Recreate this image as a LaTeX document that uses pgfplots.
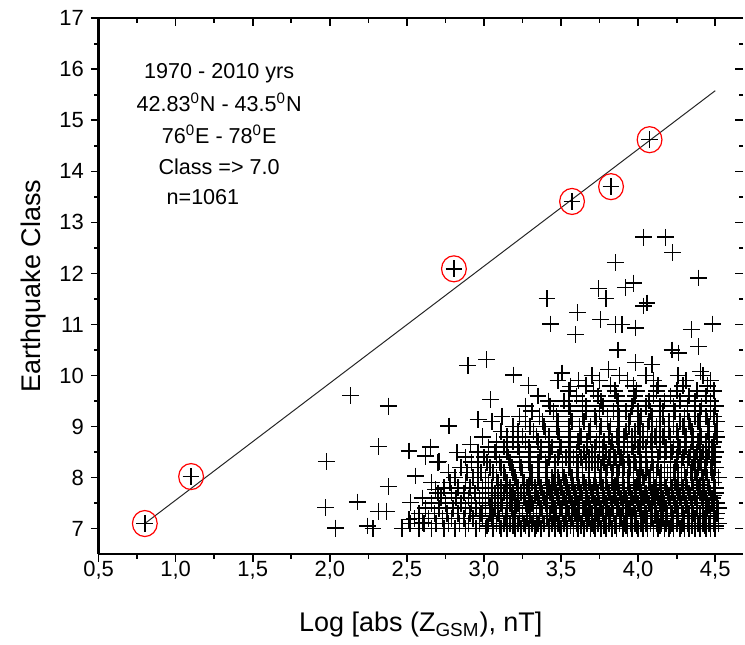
\documentclass[border=0pt]{standalone}
\usepackage{pgfplots}
\pgfplotsset{compat=1.18}
\usepackage{fontspec}
\setmainfont{Liberation Sans}

% bulk of events, one row per class value (dense part estimated)
\pgfplotstableread{
x y
1.973 7.41
2.038 7.01
2.178 7.52
2.243 7.05
2.314 7.34
2.366 7.34
2.379 7.82
1.977 8.31
2.314 8.61
2.513 8.52
2.135 9.61
2.379 9.40
2.556 8.03
2.653 8.60
2.621 8.42
2.707 8.32
2.772 9.01
2.962 9.14
3.042 9.53
3.117 9.20
2.913 8.65
2.826 8.49
2.686 7.77
2.524 7.51
2.513 7.18
2.600 7.12
2.895 10.20
3.016 10.31
3.193 10.01
3.290 9.81
3.506 10.05
3.614 9.90
3.561 9.79
3.420 9.50
3.809 10.12
3.982 10.25
4.089 10.22
4.403 10.08
3.868 10.50
4.219 10.50
4.262 10.44
4.392 10.57
3.593 10.80
3.755 11.10
3.852 11.00
3.895 11.00
3.982 10.93
4.345 10.90
4.483 11.01
3.431 11.01
3.608 11.23
4.036 11.36
4.057 11.42
3.409 11.51
3.791 11.51
3.744 11.70
3.917 11.72
3.971 11.81
4.392 11.91
3.852 12.21
4.223 12.41
4.036 12.71
4.176 12.71
}\sparse

\pgfplotstableread{
x y
2.28 7.0
2.47 7.0
2.58 7.0
2.66 7.0
2.74 7.0
2.81 7.0
2.88 7.0
2.95 7.0
3.01 7.0
3.06 7.0
3.11 7.0
3.15 7.0
3.20 7.0
3.24 7.0
3.29 7.0
3.33 7.0
3.37 7.0
3.42 7.0
3.46 7.0
3.50 7.0
3.54 7.0
3.58 7.0
3.61 7.0
3.65 7.0
3.69 7.0
3.72 7.0
3.76 7.0
3.79 7.0
3.83 7.0
3.86 7.0
3.90 7.0
3.93 7.0
3.96 7.0
4.00 7.0
4.03 7.0
4.06 7.0
4.10 7.0
4.13 7.0
4.17 7.0
4.20 7.0
4.23 7.0
4.27 7.0
4.30 7.0
4.33 7.0
4.37 7.0
4.40 7.0
4.44 7.0
4.47 7.0
4.50 7.0
3.02 7.05
3.10 7.05
3.19 7.05
3.27 7.05
3.34 7.05
3.42 7.05
3.49 7.05
3.56 7.05
3.63 7.05
3.71 7.05
3.78 7.05
3.85 7.05
3.92 7.05
3.99 7.05
4.06 7.05
4.14 7.05
4.21 7.05
4.28 7.05
4.35 7.05
4.43 7.05
4.50 7.05
2.52 7.1
2.61 7.1
2.69 7.1
2.77 7.1
2.84 7.1
2.90 7.1
2.97 7.1
3.03 7.1
3.08 7.1
3.13 7.1
3.17 7.1
3.22 7.1
3.26 7.1
3.31 7.1
3.35 7.1
3.39 7.1
3.44 7.1
3.48 7.1
3.52 7.1
3.56 7.1
3.60 7.1
3.63 7.1
3.67 7.1
3.70 7.1
3.74 7.1
3.78 7.1
3.81 7.1
3.85 7.1
3.88 7.1
3.91 7.1
3.95 7.1
3.98 7.1
4.02 7.1
4.05 7.1
4.08 7.1
4.12 7.1
4.15 7.1
4.18 7.1
4.22 7.1
4.25 7.1
4.29 7.1
4.32 7.1
4.35 7.1
4.39 7.1
4.42 7.1
4.46 7.1
4.49 7.1
4.52 7.1
2.55 7.2
2.64 7.2
2.73 7.2
2.79 7.2
2.87 7.2
2.93 7.2
2.99 7.2
3.05 7.2
3.10 7.2
3.14 7.2
3.19 7.2
3.23 7.2
3.28 7.2
3.32 7.2
3.36 7.2
3.41 7.2
3.45 7.2
3.49 7.2
3.53 7.2
3.57 7.2
3.61 7.2
3.64 7.2
3.68 7.2
3.72 7.2
3.75 7.2
3.79 7.2
3.82 7.2
3.86 7.2
3.89 7.2
3.93 7.2
3.96 7.2
3.99 7.2
4.03 7.2
4.06 7.2
4.09 7.2
4.13 7.2
4.16 7.2
4.19 7.2
4.23 7.2
4.26 7.2
4.30 7.2
4.33 7.2
4.37 7.2
4.40 7.2
4.43 7.2
4.47 7.2
4.50 7.2
2.97 7.25
3.06 7.25
3.14 7.25
3.23 7.25
3.30 7.25
3.38 7.25
3.46 7.25
3.53 7.25
3.60 7.25
3.67 7.25
3.74 7.25
3.82 7.25
3.89 7.25
3.96 7.25
4.04 7.25
4.11 7.25
4.18 7.25
4.25 7.25
4.33 7.25
4.40 7.25
4.47 7.25
2.58 7.3
2.68 7.3
2.76 7.3
2.83 7.3
2.91 7.3
2.98 7.3
3.04 7.3
3.09 7.3
3.15 7.3
3.20 7.3
3.25 7.3
3.30 7.3
3.34 7.3
3.38 7.3
3.43 7.3
3.47 7.3
3.51 7.3
3.55 7.3
3.59 7.3
3.62 7.3
3.66 7.3
3.70 7.3
3.73 7.3
3.77 7.3
3.81 7.3
3.84 7.3
3.88 7.3
3.92 7.3
3.95 7.3
3.98 7.3
4.02 7.3
4.05 7.3
4.09 7.3
4.12 7.3
4.16 7.3
4.19 7.3
4.22 7.3
4.26 7.3
4.29 7.3
4.33 7.3
4.36 7.3
4.40 7.3
4.44 7.3
4.47 7.3
4.51 7.3
2.62 7.4
2.71 7.4
2.80 7.4
2.88 7.4
2.95 7.4
3.01 7.4
3.07 7.4
3.12 7.4
3.18 7.4
3.23 7.4
3.28 7.4
3.32 7.4
3.37 7.4
3.41 7.4
3.46 7.4
3.50 7.4
3.54 7.4
3.58 7.4
3.62 7.4
3.65 7.4
3.69 7.4
3.73 7.4
3.76 7.4
3.80 7.4
3.83 7.4
3.87 7.4
3.90 7.4
3.94 7.4
3.97 7.4
4.01 7.4
4.04 7.4
4.08 7.4
4.11 7.4
4.15 7.4
4.18 7.4
4.21 7.4
4.25 7.4
4.28 7.4
4.32 7.4
4.35 7.4
4.38 7.4
4.42 7.4
4.45 7.4
4.49 7.4
4.52 7.4
3.04 7.45
3.12 7.45
3.21 7.45
3.29 7.45
3.36 7.45
3.44 7.45
3.51 7.45
3.59 7.45
3.66 7.45
3.73 7.45
3.80 7.45
3.87 7.45
3.95 7.45
4.02 7.45
4.09 7.45
4.16 7.45
4.24 7.45
4.31 7.45
4.38 7.45
4.46 7.45
2.66 7.5
2.75 7.5
2.85 7.5
2.92 7.5
2.99 7.5
3.05 7.5
3.11 7.5
3.17 7.5
3.22 7.5
3.27 7.5
3.31 7.5
3.36 7.5
3.40 7.5
3.45 7.5
3.49 7.5
3.53 7.5
3.57 7.5
3.61 7.5
3.64 7.5
3.68 7.5
3.72 7.5
3.75 7.5
3.79 7.5
3.83 7.5
3.86 7.5
3.90 7.5
3.93 7.5
3.97 7.5
4.00 7.5
4.04 7.5
4.07 7.5
4.11 7.5
4.14 7.5
4.17 7.5
4.21 7.5
4.24 7.5
4.28 7.5
4.31 7.5
4.35 7.5
4.38 7.5
4.42 7.5
4.45 7.5
4.48 7.5
4.51 7.5
2.60 7.6
2.72 7.6
2.82 7.6
2.90 7.6
2.97 7.6
3.03 7.6
3.09 7.6
3.15 7.6
3.20 7.6
3.26 7.6
3.30 7.6
3.35 7.6
3.39 7.6
3.44 7.6
3.48 7.6
3.52 7.6
3.56 7.6
3.60 7.6
3.64 7.6
3.67 7.6
3.71 7.6
3.74 7.6
3.78 7.6
3.82 7.6
3.85 7.6
3.89 7.6
3.92 7.6
3.96 7.6
3.99 7.6
4.03 7.6
4.06 7.6
4.10 7.6
4.13 7.6
4.16 7.6
4.20 7.6
4.23 7.6
4.27 7.6
4.30 7.6
4.34 7.6
4.37 7.6
4.41 7.6
4.44 7.6
4.48 7.6
3.09 7.65
3.18 7.65
3.26 7.65
3.33 7.65
3.41 7.65
3.48 7.65
3.55 7.65
3.62 7.65
3.70 7.65
3.77 7.65
3.84 7.65
3.91 7.65
3.98 7.65
4.05 7.65
4.13 7.65
4.20 7.65
4.27 7.65
4.34 7.65
4.42 7.65
4.49 7.65
2.70 7.7
2.79 7.7
2.87 7.7
2.94 7.7
3.01 7.7
3.07 7.7
3.13 7.7
3.19 7.7
3.24 7.7
3.29 7.7
3.34 7.7
3.38 7.7
3.43 7.7
3.47 7.7
3.51 7.7
3.55 7.7
3.59 7.7
3.63 7.7
3.66 7.7
3.70 7.7
3.74 7.7
3.77 7.7
3.81 7.7
3.84 7.7
3.88 7.7
3.91 7.7
3.95 7.7
3.98 7.7
4.02 7.7
4.05 7.7
4.09 7.7
4.12 7.7
4.15 7.7
4.19 7.7
4.22 7.7
4.26 7.7
4.29 7.7
4.33 7.7
4.36 7.7
4.40 7.7
4.43 7.7
4.47 7.7
4.50 7.7
2.74 7.8
2.83 7.8
2.91 7.8
2.99 7.8
3.05 7.8
3.11 7.8
3.17 7.8
3.22 7.8
3.28 7.8
3.33 7.8
3.37 7.8
3.42 7.8
3.46 7.8
3.50 7.8
3.54 7.8
3.58 7.8
3.62 7.8
3.66 7.8
3.69 7.8
3.73 7.8
3.77 7.8
3.80 7.8
3.84 7.8
3.87 7.8
3.91 7.8
3.94 7.8
3.98 7.8
4.01 7.8
4.04 7.8
4.08 7.8
4.11 7.8
4.15 7.8
4.18 7.8
4.22 7.8
4.25 7.8
4.29 7.8
4.32 7.8
4.36 7.8
4.39 7.8
4.43 7.8
4.46 7.8
4.50 7.8
3.14 7.85
3.29 7.85
3.44 7.85
3.58 7.85
3.71 7.85
3.85 7.85
3.99 7.85
4.12 7.85
4.26 7.85
4.40 7.85
2.66 7.9
2.78 7.9
2.88 7.9
2.96 7.9
3.03 7.9
3.09 7.9
3.15 7.9
3.21 7.9
3.26 7.9
3.31 7.9
3.36 7.9
3.41 7.9
3.45 7.9
3.49 7.9
3.53 7.9
3.57 7.9
3.61 7.9
3.65 7.9
3.68 7.9
3.72 7.9
3.76 7.9
3.79 7.9
3.83 7.9
3.86 7.9
3.90 7.9
3.93 7.9
3.97 7.9
4.00 7.9
4.04 7.9
4.07 7.9
4.10 7.9
4.14 7.9
4.17 7.9
4.21 7.9
4.24 7.9
4.28 7.9
4.31 7.9
4.35 7.9
4.38 7.9
4.42 7.9
4.45 7.9
4.49 7.9
2.81 8.0
2.93 8.0
3.01 8.0
3.08 8.0
3.14 8.0
3.20 8.0
3.25 8.0
3.30 8.0
3.35 8.0
3.40 8.0
3.44 8.0
3.48 8.0
3.52 8.0
3.57 8.0
3.61 8.0
3.64 8.0
3.68 8.0
3.72 8.0
3.75 8.0
3.79 8.0
3.83 8.0
3.86 8.0
3.90 8.0
3.93 8.0
3.97 8.0
4.00 8.0
4.03 8.0
4.07 8.0
4.10 8.0
4.14 8.0
4.17 8.0
4.21 8.0
4.24 8.0
4.28 8.0
4.31 8.0
4.35 8.0
4.38 8.0
4.42 8.0
4.45 8.0
4.49 8.0
4.52 8.0
2.77 8.1
2.89 8.1
2.98 8.1
3.06 8.1
3.13 8.1
3.19 8.1
3.25 8.1
3.31 8.1
3.36 8.1
3.41 8.1
3.46 8.1
3.51 8.1
3.56 8.1
3.60 8.1
3.64 8.1
3.68 8.1
3.72 8.1
3.76 8.1
3.79 8.1
3.83 8.1
3.87 8.1
3.90 8.1
3.94 8.1
3.97 8.1
4.01 8.1
4.05 8.1
4.08 8.1
4.12 8.1
4.15 8.1
4.19 8.1
4.23 8.1
4.26 8.1
4.30 8.1
4.34 8.1
4.37 8.1
4.41 8.1
4.44 8.1
4.48 8.1
2.85 8.2
2.96 8.2
3.04 8.2
3.11 8.2
3.18 8.2
3.24 8.2
3.30 8.2
3.35 8.2
3.41 8.2
3.46 8.2
3.51 8.2
3.55 8.2
3.60 8.2
3.64 8.2
3.68 8.2
3.72 8.2
3.76 8.2
3.80 8.2
3.84 8.2
3.88 8.2
3.91 8.2
3.95 8.2
3.99 8.2
4.02 8.2
4.06 8.2
4.10 8.2
4.13 8.2
4.17 8.2
4.21 8.2
4.24 8.2
4.28 8.2
4.32 8.2
4.35 8.2
4.39 8.2
4.43 8.2
4.47 8.2
4.50 8.2
2.70 8.3
2.92 8.3
3.02 8.3
3.10 8.3
3.17 8.3
3.23 8.3
3.29 8.3
3.35 8.3
3.40 8.3
3.46 8.3
3.51 8.3
3.56 8.3
3.61 8.3
3.66 8.3
3.70 8.3
3.74 8.3
3.78 8.3
3.82 8.3
3.86 8.3
3.90 8.3
3.94 8.3
3.98 8.3
4.02 8.3
4.05 8.3
4.09 8.3
4.13 8.3
4.17 8.3
4.21 8.3
4.25 8.3
4.28 8.3
4.32 8.3
4.36 8.3
4.40 8.3
4.44 8.3
4.48 8.3
2.88 8.4
3.00 8.4
3.08 8.4
3.16 8.4
3.23 8.4
3.30 8.4
3.36 8.4
3.42 8.4
3.48 8.4
3.53 8.4
3.58 8.4
3.63 8.4
3.68 8.4
3.72 8.4
3.77 8.4
3.81 8.4
3.85 8.4
3.89 8.4
3.93 8.4
3.97 8.4
4.01 8.4
4.05 8.4
4.09 8.4
4.13 8.4
4.17 8.4
4.21 8.4
4.25 8.4
4.29 8.4
4.33 8.4
4.37 8.4
4.41 8.4
4.45 8.4
4.49 8.4
2.96 8.5
3.07 8.5
3.15 8.5
3.23 8.5
3.30 8.5
3.37 8.5
3.43 8.5
3.49 8.5
3.55 8.5
3.60 8.5
3.65 8.5
3.70 8.5
3.75 8.5
3.79 8.5
3.84 8.5
3.88 8.5
3.93 8.5
3.97 8.5
4.01 8.5
4.05 8.5
4.09 8.5
4.14 8.5
4.18 8.5
4.22 8.5
4.26 8.5
4.30 8.5
4.34 8.5
4.38 8.5
4.42 8.5
4.46 8.5
4.50 8.5
3.03 8.6
3.13 8.6
3.22 8.6
3.29 8.6
3.37 8.6
3.44 8.6
3.50 8.6
3.56 8.6
3.62 8.6
3.67 8.6
3.72 8.6
3.77 8.6
3.82 8.6
3.87 8.6
3.91 8.6
3.96 8.6
4.00 8.6
4.05 8.6
4.09 8.6
4.14 8.6
4.18 8.6
4.23 8.6
4.27 8.6
4.31 8.6
4.36 8.6
4.40 8.6
4.44 8.6
4.48 8.6
3.08 8.7
3.19 8.7
3.27 8.7
3.35 8.7
3.42 8.7
3.49 8.7
3.55 8.7
3.61 8.7
3.67 8.7
3.73 8.7
3.78 8.7
3.83 8.7
3.88 8.7
3.93 8.7
3.98 8.7
4.03 8.7
4.08 8.7
4.12 8.7
4.17 8.7
4.21 8.7
4.26 8.7
4.30 8.7
4.35 8.7
4.39 8.7
4.44 8.7
4.49 8.7
2.99 8.8
3.15 8.8
3.25 8.8
3.34 8.8
3.42 8.8
3.49 8.8
3.56 8.8
3.63 8.8
3.69 8.8
3.75 8.8
3.81 8.8
3.86 8.8
3.91 8.8
3.96 8.8
4.01 8.8
4.06 8.8
4.11 8.8
4.16 8.8
4.21 8.8
4.26 8.8
4.31 8.8
4.36 8.8
4.41 8.8
4.46 8.8
4.51 8.8
3.11 8.9
3.22 8.9
3.32 8.9
3.40 8.9
3.48 8.9
3.55 8.9
3.62 8.9
3.68 8.9
3.75 8.9
3.81 8.9
3.87 8.9
3.92 8.9
3.98 8.9
4.03 8.9
4.09 8.9
4.14 8.9
4.20 8.9
4.25 8.9
4.30 8.9
4.35 8.9
4.40 8.9
4.45 8.9
4.50 8.9
3.19 9.0
3.30 9.0
3.39 9.0
3.47 9.0
3.55 9.0
3.62 9.0
3.69 9.0
3.76 9.0
3.82 9.0
3.88 9.0
3.94 9.0
4.00 9.0
4.06 9.0
4.12 9.0
4.17 9.0
4.23 9.0
4.29 9.0
4.34 9.0
4.40 9.0
4.46 9.0
3.05 9.1
3.27 9.1
3.38 9.1
3.48 9.1
3.57 9.1
3.65 9.1
3.73 9.1
3.80 9.1
3.87 9.1
3.94 9.1
4.01 9.1
4.07 9.1
4.14 9.1
4.20 9.1
4.27 9.1
4.33 9.1
4.39 9.1
4.45 9.1
4.51 9.1
3.23 9.2
3.36 9.2
3.47 9.2
3.56 9.2
3.64 9.2
3.72 9.2
3.80 9.2
3.88 9.2
3.95 9.2
4.02 9.2
4.09 9.2
4.16 9.2
4.23 9.2
4.30 9.2
4.37 9.2
4.44 9.2
4.49 9.2
3.31 9.3
3.45 9.3
3.56 9.3
3.66 9.3
3.75 9.3
3.84 9.3
3.92 9.3
4.00 9.3
4.08 9.3
4.16 9.3
4.24 9.3
4.32 9.3
4.40 9.3
4.47 9.3
3.27 9.4
3.43 9.4
3.55 9.4
3.66 9.4
3.77 9.4
3.87 9.4
3.96 9.4
4.05 9.4
4.14 9.4
4.23 9.4
4.32 9.4
4.41 9.4
4.50 9.4
3.52 9.5
3.64 9.5
3.76 9.5
3.87 9.5
3.97 9.5
4.07 9.5
4.17 9.5
4.27 9.5
4.37 9.5
4.47 9.5
3.35 9.6
3.60 9.6
3.74 9.6
3.86 9.6
3.98 9.6
4.10 9.6
4.21 9.6
4.33 9.6
4.44 9.6
3.55 9.7
3.71 9.7
3.85 9.7
3.99 9.7
4.12 9.7
4.25 9.7
4.38 9.7
4.49 9.7
3.66 9.8
3.82 9.8
3.97 9.8
4.13 9.8
4.29 9.8
4.45 9.8
3.48 9.9
3.75 9.9
3.93 9.9
4.10 9.9
4.31 9.9
4.47 9.9
3.70 10.0
3.88 10.0
4.05 10.0
4.26 10.0
4.42 10.0
}\dense

% extreme events, circled in red
\pgfplotstableread{
x y
0.80 7.10
1.10 8.02
2.805 12.09
3.571 13.41
3.824 13.70
4.074 14.62
}\extreme

\begin{document}
\begin{tikzpicture}
\pgfplotsset{
  every axis/.append style={
    scale only axis, width=322.6pt, height=268.3pt,
    xmin=0.5, xmax=4.68, ymin=6.5, ymax=17,
    xtick={0.5,1,...,4.5}, minor x tick num=1,
    ytick={7,8,...,17}, minor y tick num=1,
    major tick length=3.8pt, minor tick length=2.2pt,
    every tick/.style={black, line width=0.8pt},
    axis line style={black, line width=1.1pt, -},
    clip=false,
  },
}
% inward ticks on top and right, no labels
\begin{axis}[
  axis x line*=top, axis y line*=right,
  tick align=inside,
  xticklabels={}, yticklabels={},
  tick label style={inner sep=0pt, outer sep=0pt},
  y axis line style={draw=none},
]
\end{axis}
\begin{axis}[
  axis x line*=bottom, axis y line*=left,
  tick align=outside,
  /pgf/number format/assume math mode=true,
  xticklabel style={font=\fontsize{11}{13}\selectfont, inner ysep=0pt, yshift=0.5pt,
    /pgf/number format/.cd, use comma, fixed, fixed zerofill, precision=1},
  yticklabel style={font=\fontsize{11}{13}\selectfont, /pgf/number format/.cd, fixed, precision=0},
  xlabel={Log [abs (Z\textsubscript{GSM}), nT]},
  ylabel={Earthquake Class},
  label style={font=\fontsize{13.5}{16}\selectfont},
  xlabel style={yshift=-13pt},
]
\addplot[only marks, mark=+, mark size=4.2pt, mark options={line width=0.8pt}] table[x=x, y=y] {\dense};
\addplot[only marks, mark=+, mark size=4.2pt, mark options={line width=0.7pt}] table[x=x, y=y] {\sparse};
\addplot[only marks, mark=+, mark size=4.2pt, mark options={line width=0.7pt}] table[x=x, y=y] {\extreme};
% fitted line through the extreme events
\addplot[black!85, line width=0.5pt] coordinates {(0.80,7.10) (4.50,15.58)};
\addplot[only marks, mark=o, mark size=6.2pt, mark options={draw=red, line width=0.6pt, yscale=1.05}] table[x=x, y=y] {\extreme};
\node[font=\fontsize{10.8}{13}\selectfont] at (axis cs:1.282,15.93) {1970 - 2010 yrs};
\node[font=\fontsize{10.8}{13}\selectfont] at (axis cs:1.282,15.36) {42.83\textsuperscript{0}N - 43.5\textsuperscript{0}N};
\node[font=\fontsize{10.8}{13}\selectfont] at (axis cs:1.282,14.72) {76\textsuperscript{0}E - 78\textsuperscript{0}E};
\node[font=\fontsize{10.8}{13}\selectfont] at (axis cs:1.282,14.09) {Class => 7.0};
\node[font=\fontsize{10.8}{13}\selectfont, anchor=west, inner sep=0pt] at (axis cs:0.939,13.50) {n=1061};
\end{axis}
% blank margin left of the y label and above the top label, as in the reference
\path (current bounding box.west) ++(-7pt,0);
\path (current bounding box.north) ++(0,2pt);
\end{tikzpicture}
\end{document}
